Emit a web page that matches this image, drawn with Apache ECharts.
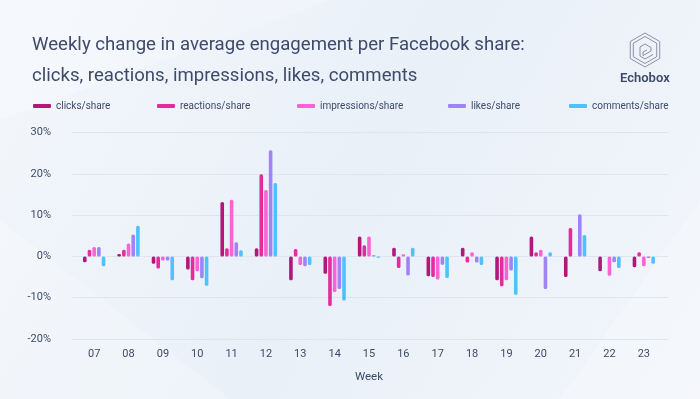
<!DOCTYPE html>
<html>
<head>
<meta charset="utf-8">
<script src="https://cdn.jsdelivr.net/npm/echarts@6/dist/echarts.min.js"></script>
<style>
html,body{margin:0;padding:0;}
#c{width:700px;height:399px;}
</style>
</head>
<body>
<div id="c"></div>
<script>
var weeks = ['07','08','09','10','11','12','13','14','15','16','17','18','19','20','21','22','23'];
var clicks = [-1.4, 0.6, -1.8, -3.2, 13.2, 2.0, -5.8, -4.2, 4.8, 2.1, -4.8, 2.1, -5.8, 4.8, -5.0, -3.6, -2.6];
var reactions = [1.6, 1.6, -2.9, -5.8, 2.0, 19.9, 1.8, -12.0, 2.7, -2.8, -5.0, -1.5, -7.2, 1.0, 6.9, 0, 1.0];
var impressions = [2.3, 3.1, -1.0, -3.6, 13.7, 16.1, -2.1, -8.6, 4.8, 0.5, -5.6, 1.0, -5.8, 1.6, 0, -4.7, -2.4];
var likes = [2.3, 5.3, -1.0, -5.3, 3.4, 25.7, -2.4, -7.9, 0.3, -4.6, -2.0, -1.5, -3.4, -7.9, 10.2, -1.4, -0.4];
var comments = [-2.4, 7.4, -5.8, -7.1, 1.5, 17.8, -2.1, -10.7, -0.3, 2.1, -5.2, -2.1, -9.3, 1.0, 5.2, -2.8, -1.8];
var seriesNames = ['clicks/share','reactions/share','impressions/share','likes/share','comments/share'];
var yMin = -20, yMax = 30, yStep = 10;

var colors = ['#b3177a','#e42c9c','#fb62d3','#a083f9','#4fc1fb'];
var dataSets = [clicks, reactions, impressions, likes, comments];
var legendLeft = [33, 157, 297, 448, 569];
var textColor = '#3e4a6a';
var font = 'Roboto';

var chart = echarts.init(document.getElementById('c'), null, {renderer:'canvas'});

var series = dataSets.map(function(d, i){
  return {
    name: seriesNames[i],
    type: 'bar',
    xAxisIndex: 0,
    yAxisIndex: 0,
    data: d,
    barWidth: 3.6,
    barGap: '30%',
    itemStyle: {color: colors[i], borderRadius: 1.5},
    emphasis: {disabled: true}
  };
});

var legends = seriesNames.map(function(n, i){
  return {
    data: [n],
    left: legendLeft[i],
    top: 101,
    icon: 'roundRect',
    itemWidth: 18,
    itemHeight: 4,
    itemGap: 6,
    textStyle: {color: textColor, fontSize: 10, fontFamily: font, padding: [0,0,0,0]},
    padding: 0
  };
});

function hexPts(cx, cy, r){
  var p = [];
  for (var k = 0; k < 6; k++){
    var a = Math.PI/180*(60*k - 90);
    p.push([cx + r*Math.cos(a), cy + r*Math.sin(a)]);
  }
  p.push(p[0]);
  return p;
}

var logoStroke = {stroke: '#6f7994', lineWidth: 0.8, fill: null};
var cx = 645, cy = 50;

var option = {
  backgroundColor: {
    type: 'linear', x: 0, y: 0, x2: 1, y2: 1,
    colorStops: [
      {offset: 0, color: '#f4f7fb'},
      {offset: 0.5, color: '#e9f0f8'},
      {offset: 1, color: '#f3f6fb'}
    ]
  },
  animation: false,
  title: {
    text: 'Weekly change in average engagement per Facebook share:\nclicks, reactions, impressions, likes, comments',
    left: 27,
    top: 25,
    textStyle: {color: textColor, fontSize: 18.6, fontWeight: 'normal', fontFamily: font, lineHeight: 31}
  },
  legend: legends,
  grid: [
    {left: 77, right: 39, top: 132.5, bottom: 60},
    {left: 72, right: 32, top: 132.5, bottom: 60}
  ],
  xAxis: [
    {
      type: 'category', gridIndex: 0, data: weeks,
      axisLine: {show: false}, axisTick: {show: false},
      axisLabel: {color: textColor, fontSize: 11, fontFamily: font, margin: 10},
      name: 'Week', nameLocation: 'middle', nameGap: 32,
      nameTextStyle: {color: textColor, fontSize: 11.5, fontFamily: font}
    },
    {
      type: 'category', gridIndex: 1, data: weeks, show: false
    }
  ],
  yAxis: [
    {
      type: 'value', gridIndex: 0, min: yMin, max: yMax, interval: yStep,
      axisLabel: {show: false}, splitLine: {show: false},
      axisLine: {show: false}, axisTick: {show: false}
    },
    {
      type: 'value', gridIndex: 1, min: yMin, max: yMax, interval: yStep,
      axisLabel: {color: textColor, fontSize: 11, fontFamily: font, margin: 21, formatter: '{value}%'},
      splitLine: {lineStyle: {color: '#dfe5ee', width: 1.2}},
      axisLine: {show: false}, axisTick: {show: false}
    }
  ],
  graphic: [
    {type: 'polygon', silent: true, z: -10, shape: {points: [[0,0],[330,0],[0,120]]}, style: {fill: 'rgba(255,255,255,0.22)'}},
    {type: 'polygon', silent: true, z: -10, shape: {points: [[560,399],[700,200],[700,399]]}, style: {fill: 'rgba(255,255,255,0.2)'}},
    {type: 'polygon', silent: true, z: -10, shape: {points: [[0,220],[230,399],[0,399]]}, style: {fill: 'rgba(255,255,255,0.22)'}},
    {type: 'polyline', silent: true, shape: {points: hexPts(cx, cy, 17)}, style: logoStroke},
    {type: 'polyline', silent: true, shape: {points: hexPts(cx, cy, 13.5)}, style: logoStroke},
    {type: 'polyline', silent: true, shape: {points: [[cx-5,cy-3],[cx,cy-6],[cx+6,cy-2.5],[cx+6,cy+1],[cx-2,cy+5.5],[cx-2,cy+2],[cx+2,cy]]}, style: logoStroke},
    {type: 'polyline', silent: true, shape: {points: [[cx-5,cy-3],[cx-5,cy+6],[cx,cy+9],[cx+8,cy+4.5]]}, style: logoStroke},
    {type: 'text', silent: true, left: 620, top: 72, style: {text: 'Echobox', fill: textColor, fontSize: 13, fontWeight: 600, fontFamily: font}}
  ],
  series: series
};
chart.setOption(option);
</script>
</body>
</html>
